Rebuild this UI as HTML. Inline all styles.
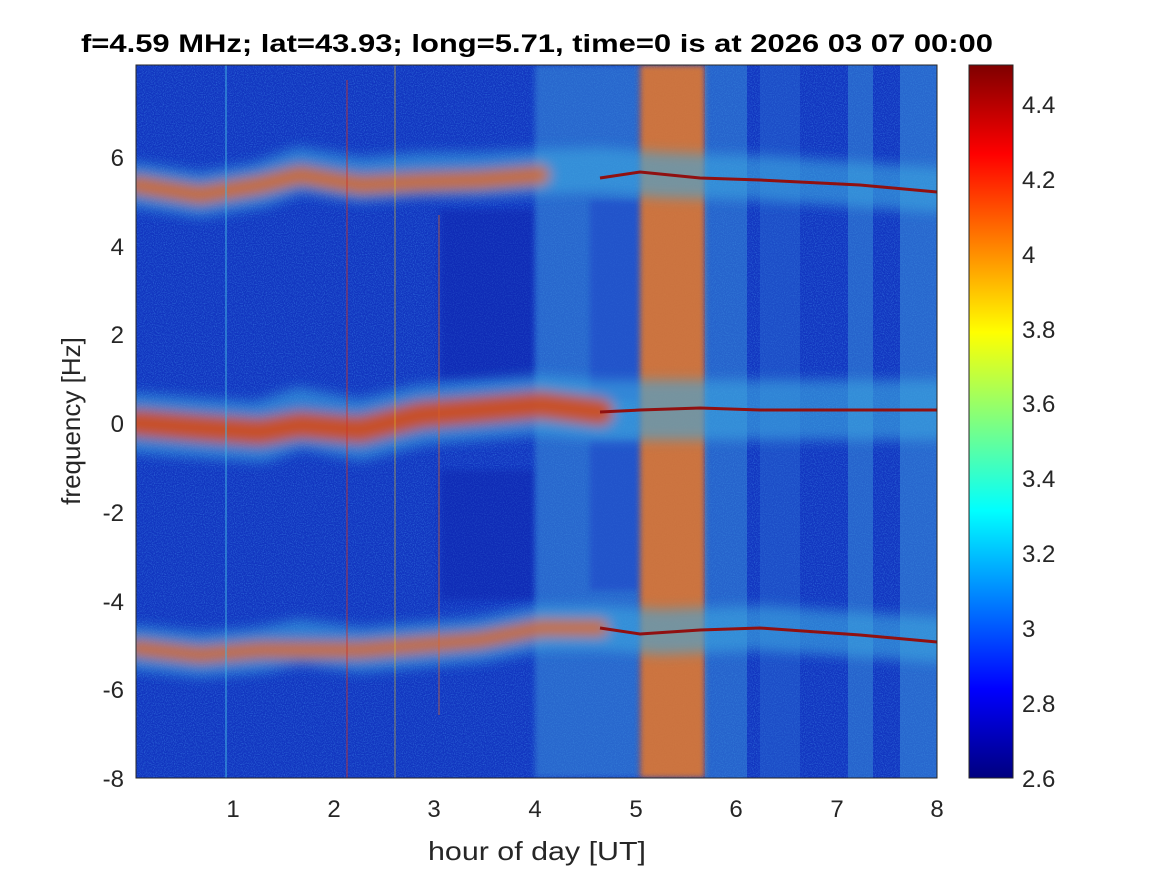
<!DOCTYPE html>
<html><head><meta charset="utf-8"><style>
body{margin:0;background:#fff;}
svg text{font-family:"Liberation Sans",Arial,sans-serif;fill:#262626;}
</style></head><body>
<svg width="1167" height="875" viewBox="0 0 1167 875" xmlns="http://www.w3.org/2000/svg">
<defs>
<linearGradient id="jet" x1="0" y1="1" x2="0" y2="0">
<stop offset="0" stop-color="#00007f"/><stop offset="0.125" stop-color="#0000ff"/>
<stop offset="0.375" stop-color="#00ffff"/><stop offset="0.625" stop-color="#ffff00"/>
<stop offset="0.875" stop-color="#ff0000"/><stop offset="1" stop-color="#7f0000"/>
</linearGradient>
<filter id="bl" x="-20%" y="-50%" width="140%" height="200%"><feGaussianBlur stdDeviation="6"/></filter>
<filter id="bl2"><feGaussianBlur stdDeviation="3"/></filter>
<filter id="noise" x="0" y="0" width="100%" height="100%">
<feTurbulence type="fractalNoise" baseFrequency="0.9" numOctaves="1" seed="3"/>
<feColorMatrix values="0 0 0 0 0.1  0 0 0 0 0.5  0 0 0 0 1  0 0 0 1.4 -0.6"/>
</filter>
<clipPath id="pc"><rect x="136" y="65" width="801" height="713"/></clipPath>
</defs>
<g clip-path="url(#pc)">
<rect x="136" y="65" width="801" height="713" fill="#1236c0"/>
<rect x="136" y="65" width="801" height="713" filter="url(#noise)" opacity="0.6"/>
<rect x="440" y="210" width="95" height="170" fill="#0a1ea8" opacity="0.4" filter="url(#bl2)"/>
<rect x="440" y="470" width="95" height="130" fill="#0a1ea8" opacity="0.4" filter="url(#bl2)"/>
<rect x="535" y="65" width="105" height="713" fill="#3a8fd8" opacity="0.55" filter="url(#bl2)"/>
<rect x="590" y="200" width="50" height="200" fill="#1a40c8" opacity="0.5" filter="url(#bl2)"/>
<rect x="590" y="440" width="50" height="150" fill="#1a40c8" opacity="0.5" filter="url(#bl2)"/>
<rect x="640" y="65" width="65" height="713" fill="#e07a30" opacity="0.9" filter="url(#bl2)"/>
<rect x="705" y="65" width="42" height="713" fill="#3a8fd8" opacity="0.5"/>
<rect x="760" y="65" width="40" height="713" fill="#2a6ad0" opacity="0.45"/>
<rect x="848" y="65" width="25" height="713" fill="#3a8fd8" opacity="0.5"/>
<rect x="900" y="65" width="37" height="713" fill="#3a8fd8" opacity="0.55"/>
<g filter="url(#bl)" fill="none" stroke-linecap="round">
<polyline points="136,185 200,195 260,185 300,170 360,180 420,175 480,175 540,172 600,170 660,175 760,178 937,190" stroke="#3aa8e0" stroke-width="45" opacity="0.6"/>
<polyline points="136,185 200,195 260,185 300,175 360,185 420,182 480,180 540,175" stroke="#e06a20" stroke-width="20" opacity="0.85"/>
<polyline points="136,423 200,428 260,432 300,418 360,430 420,415 480,410 540,405 600,410 660,410 760,410 937,410" stroke="#3aa8e0" stroke-width="60" opacity="0.6"/>
<polyline points="136,423 200,428 260,432 300,425 360,430 420,415 480,410 540,405 600,412" stroke="#d84a18" stroke-width="28" opacity="0.9"/>
<polyline points="136,648 200,655 260,650 300,642 360,650 420,645 480,640 540,628 600,628 660,632 760,628 937,640" stroke="#3aa8e0" stroke-width="45" opacity="0.6"/>
<polyline points="136,648 200,655 260,650 300,650 360,650 420,645 480,640 540,628 600,628" stroke="#e06a20" stroke-width="18" opacity="0.85"/>
</g>
<polyline points="600,178 640,172 700,178 760,180 860,185 937,192" fill="none" stroke="#901010" stroke-width="3"/>
<polyline points="600,412 640,410 700,408 760,410 860,410 937,410" fill="none" stroke="#901010" stroke-width="3"/>
<polyline points="600,628 640,634 700,630 760,628 860,635 937,642" fill="none" stroke="#901010" stroke-width="3"/>
<rect x="225" y="65" width="2" height="713" fill="#40b0e0" opacity="0.5"/>
<rect x="346" y="80" width="2" height="698" fill="#d03020" opacity="0.4"/>
<rect x="394" y="65" width="2" height="713" fill="#e0c020" opacity="0.3"/>
<rect x="438" y="215" width="2" height="500" fill="#e06020" opacity="0.35"/>
</g>
<rect x="136" y="65" width="801" height="713" fill="none" stroke="#262626" stroke-width="1"/>
<g font-size="24" text-anchor="middle">
<text x="233" y="817">1</text><text x="334" y="817">2</text><text x="434" y="817">3</text><text x="535" y="817">4</text>
<text x="636" y="817">5</text><text x="736" y="817">6</text><text x="837" y="817">7</text><text x="937" y="817">8</text>
</g>
<text x="537" y="860" font-size="26" text-anchor="middle" textLength="218" lengthAdjust="spacingAndGlyphs">hour of day [UT]</text>
<g font-size="24" text-anchor="end">
<text x="124" y="787">-8</text><text x="124" y="698">-6</text><text x="124" y="610">-4</text><text x="124" y="521">-2</text>
<text x="124" y="432">0</text><text x="124" y="343">2</text><text x="124" y="255">4</text><text x="124" y="166">6</text>
</g>
<text x="80" y="421" font-size="26" text-anchor="middle" transform="rotate(-90 80 421)">frequency [Hz]</text>
<text x="537" y="52" font-size="25" font-weight="bold" text-anchor="middle" textLength="912" lengthAdjust="spacingAndGlyphs" style="fill:#000">f=4.59 MHz;  lat=43.93; long=5.71, time=0 is at 2026 03 07 00:00</text>
<rect x="969" y="65" width="44" height="713" fill="url(#jet)" stroke="#262626" stroke-width="1"/>
<g font-size="24">
<text x="1022" y="787">2.6</text><text x="1022" y="712">2.8</text><text x="1022" y="637">3</text><text x="1022" y="562">3.2</text>
<text x="1022" y="487">3.4</text><text x="1022" y="412">3.6</text><text x="1022" y="338">3.8</text><text x="1022" y="263">4</text>
<text x="1022" y="188">4.2</text><text x="1022" y="113">4.4</text>
</g>
</svg>
</body></html>
